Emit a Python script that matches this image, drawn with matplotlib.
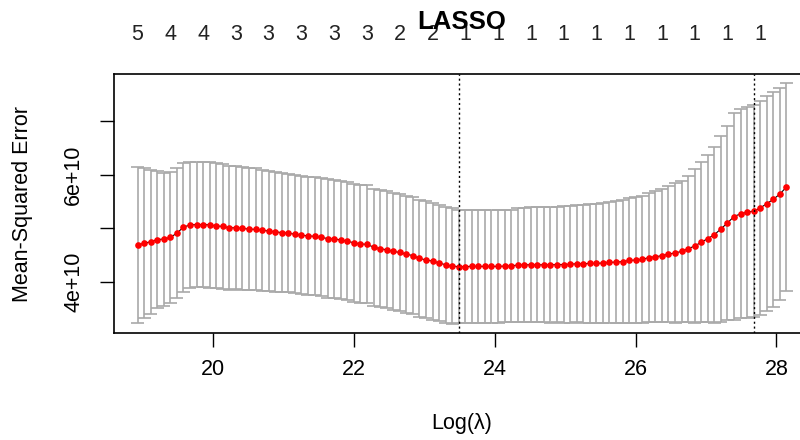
import numpy as np
import matplotlib
matplotlib.use('Agg')
import matplotlib.pyplot as plt

plt.rcParams['font.family'] = ['Liberation Sans', 'DejaVu Sans']

# log(lambda) grid of the cv fit (glmnet path, evenly spaced in log)
loglam_first = 18.925
loglam_last = 28.144
n_lambda = 100

# cross-validated mean error and its standard error, in units of 1e10
cvm = [4.69, 4.72, 4.75, 4.79, 4.80, 4.83, 4.91, 5.02, 5.065, 5.07,
       5.07, 5.065, 5.045, 5.035, 5.01, 5.01, 5.00, 4.985, 4.98, 4.965,
       4.95, 4.935, 4.92, 4.91, 4.89, 4.87, 4.86, 4.85, 4.83, 4.81,
       4.80, 4.785, 4.76, 4.73, 4.71, 4.70, 4.65, 4.62, 4.60, 4.57,
       4.55, 4.52, 4.49, 4.44, 4.41, 4.39, 4.355, 4.32, 4.295, 4.285,
       4.288, 4.29, 4.29, 4.29, 4.29, 4.29, 4.295, 4.30, 4.315, 4.32,
       4.32, 4.32, 4.32, 4.32, 4.325, 4.325, 4.33, 4.34, 4.34, 4.345,
       4.345, 4.355, 4.365, 4.37, 4.38, 4.40, 4.41, 4.42, 4.455, 4.47,
       4.49, 4.52, 4.54, 4.57, 4.62, 4.67, 4.74, 4.81, 4.88, 4.99,
       5.10, 5.22, 5.27, 5.30, 5.32, 5.38, 5.46, 5.54, 5.64, 5.77]
cvsd = [1.46, 1.40, 1.34, 1.28, 1.24, 1.22, 1.21, 1.20, 1.18, 1.17,
        1.17, 1.17, 1.165, 1.16, 1.16, 1.15, 1.145, 1.14, 1.135, 1.13,
        1.12, 1.115, 1.11, 1.10, 1.10, 1.10, 1.10, 1.10, 1.10, 1.10,
        1.10, 1.10, 1.10, 1.10, 1.10, 1.10, 1.09, 1.09, 1.09, 1.09,
        1.09, 1.09, 1.09, 1.09, 1.09, 1.09, 1.085, 1.08, 1.08, 1.05,
        1.05, 1.05, 1.05, 1.05, 1.05, 1.05, 1.05, 1.05, 1.06, 1.065,
        1.07, 1.07, 1.075, 1.08, 1.08, 1.085, 1.09, 1.095, 1.10, 1.11,
        1.115, 1.12, 1.13, 1.14, 1.15, 1.16, 1.17, 1.18, 1.20, 1.22,
        1.24, 1.27, 1.30, 1.32, 1.36, 1.43, 1.49, 1.56, 1.64, 1.73,
        1.81, 1.93, 1.95, 1.97, 1.98, 1.99, 2.00, 2.00, 1.97, 1.94]

# number of nonzero coefficients, shown for every 5th lambda
nzero_step = 5
nzero = [5, 4, 4, 3, 3, 3, 3, 3, 2, 2, 1, 1, 1, 1, 1, 1, 1, 1, 1, 1]

ytick_vals = [4e10, 5e10, 6e10, 7e10]
ytick_labels = ['4e+10', '', '6e+10', '']
xtick_vals = [20, 22, 24, 26, 28]


x = np.linspace(loglam_first, loglam_last, n_lambda)
m = np.array(cvm) * 1e10
sd = np.array(cvsd) * 1e10
up = m + sd
lo = m - sd

i_min = int(np.argmin(m))
i_1se = int(np.max(np.where(m <= m[i_min] + sd[i_min])[0]))

fig = plt.figure(figsize=(8, 4.4), dpi=100)
W, H = 800.0, 440.0
ax_l, ax_r, ax_t, ax_b = 113.5, 810.5, 74.0, 333.0
ax = fig.add_axes([ax_l / W, 1 - ax_b / H, (ax_r - ax_l) / W, (ax_b - ax_t) / H])

# error bars like glmnet's error.bars(width=0.01)
barw = (x.max() - x.min()) * 0.01
ax.vlines(x, lo, up, color='#A9A9A9', lw=1.2, zorder=1)
ax.hlines(up, x - barw, x + barw, color='#A9A9A9', lw=1.2, zorder=1)
ax.hlines(lo, x - barw, x + barw, color='#A9A9A9', lw=1.2, zorder=1)

ax.plot(x, m, color='black', lw=0.8, zorder=2)
ax.plot(x, m, 'o', color='red', markersize=4.8, markeredgewidth=0, zorder=3)

ax.axvline(x[i_min], color='black', lw=1, ls=(0, (1.5, 2)), zorder=4)
ax.axvline(x[i_1se], color='black', lw=1, ls=(0, (1.5, 2)), zorder=4)

xr = x.max() - x.min()
ax.set_xlim(x.min() - 0.04 * xr / 1.08, x.max() + 0.04 * xr / 1.08)
yr = max(up) - min(lo)
ax.set_ylim(min(lo) - 0.04 * yr / 1.08, max(up) + 0.04 * yr / 1.08)

for s in ax.spines.values():
    s.set_linewidth(1.2)

ax.set_xticks(xtick_vals)
ax.set_xticklabels([str(v) for v in xtick_vals])
ax.set_yticks(ytick_vals)
ax.set_yticklabels(ytick_labels)
ax.tick_params(axis='both', length=10, width=1, labelsize=15.5)
ax.tick_params(axis='x', pad=9)
ax.tick_params(axis='y', pad=11)
for t in ax.get_yticklabels():
    t.set_rotation(90)
    t.set_va('center')

# nonzero counts along the top
for k, nz in enumerate(nzero):
    ax.text(x[k * nzero_step], (ax_b - 35) / (ax_b - ax_t), str(nz),
            transform=ax.get_xaxis_transform(), ha='center', va='center',
            fontsize=15.5, color='#222222')

ax.text(0.5, (ax_b - 22) / (ax_b - ax_t), 'LASSO', transform=ax.transAxes,
        ha='center', va='center', fontsize=18.5, fontweight='bold')

fig.text(22.5 / W, 1 - 203.5 / H, 'Mean-Squared Error', rotation=90,
         ha='center', va='center', fontsize=15.5)
fig.text(462 / W, 1 - 423 / H, 'Log(λ)', ha='center', va='center',
         fontsize=15.5)

fig.savefig('out.png', dpi=100)
